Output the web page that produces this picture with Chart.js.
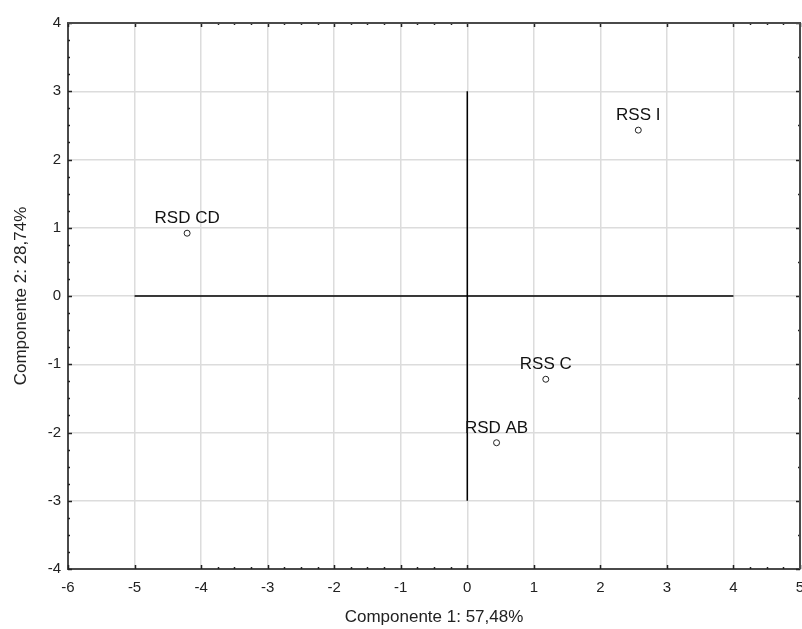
<!DOCTYPE html>
<html>
<head>
<meta charset="utf-8">
<script src="https://cdn.jsdelivr.net/npm/chart.js@4.4.1/dist/chart.umd.min.js"></script>
<style>
  html, body { margin: 0; padding: 0; background: #fff; }
  #wrap { width: 802px; height: 629px; overflow: hidden; }
</style>
</head>
<body>
<div id="wrap"><canvas id="pcaChart" width="805" height="629"></canvas></div>
<script>
// =================== DADOS ===================
const rotulos = ['RSS I', 'RSD CD', 'RSS C', 'RSD AB'];
const componente1 = [2.57, -4.21, 1.18, 0.44];
const componente2 = [2.43, 0.92, -1.22, -2.15];

// eixos de referência desenhados no centro
const eixoHorizX = [-5, 4];
const eixoHorizY = [0, 0];
const eixoVertX = [0, 0];
const eixoVertY = [-3, 3];

const ticksX = [-6, -5, -4, -3, -2, -1, 0, 1, 2, 3, 4, 5];
const ticksY = [-4, -3, -2, -1, 0, 1, 2, 3, 4];

const tituloX = 'Componente 1: 57,48%';
const tituloY = 'Componente 2: 28,74%';

const fonte = '"Liberation Sans", Arial, sans-serif';

// =================== PLUGINS ===================
// rótulos acima de cada ponto
const rotulosPlugin = {
    id: 'rotulos',
    afterDatasetsDraw(chart) {
        const ctx = chart.ctx;
        const meta = chart.getDatasetMeta(0);
        ctx.save();
        ctx.font = '17px ' + fonte;
        ctx.fillStyle = '#111';
        ctx.textAlign = 'center';
        ctx.textBaseline = 'bottom';
        meta.data.forEach((pt, i) => {
            ctx.fillText(rotulos[i], pt.x, pt.y - 6);
        });
        ctx.restore();
    }
};

// marcas (ticks) para dentro nos quatro lados
const marcasPlugin = {
    id: 'marcas',
    afterDraw(chart) {
        const { ctx, chartArea: a, scales } = chart;
        const sx = scales.x, sy = scales.y;
        ctx.save();
        ctx.strokeStyle = '#222';
        ctx.lineWidth = 1.5;
        ctx.beginPath();
        ticksX.forEach(v => {
            const px = Math.round(sx.getPixelForValue(v)) + 0.5;
            ctx.moveTo(px, a.bottom); ctx.lineTo(px, a.bottom - 4);
            ctx.moveTo(px, a.top); ctx.lineTo(px, a.top + 4);
        });
        ticksY.forEach(v => {
            const py = Math.round(sy.getPixelForValue(v)) + 0.5;
            ctx.moveTo(a.left, py); ctx.lineTo(a.left + 4, py);
            ctx.moveTo(a.right, py); ctx.lineTo(a.right - 4, py);
        });
        ctx.stroke();

        // marcas menores
        ctx.lineWidth = 1.5;
        ctx.beginPath();
        for (let v = -4; v < 5; v++) {
            if (v >= 0 && v < 4) continue;
            [0.25, 0.5, 0.75].forEach(f => {
                const px = Math.round(sx.getPixelForValue(v + f)) + 0.5;
                ctx.moveTo(px, a.bottom); ctx.lineTo(px, a.bottom - 2);
                ctx.moveTo(px, a.top); ctx.lineTo(px, a.top + 2);
            });
        }
        for (let v = -4; v < 4; v++) {
            [0.25, 0.5, 0.75].forEach(f => {
                const py = Math.round(sy.getPixelForValue(v + f)) + 0.5;
                ctx.moveTo(a.left, py); ctx.lineTo(a.left + 2, py);
            });
            const pr = Math.round(sy.getPixelForValue(v + 0.5)) + 0.5;
            ctx.moveTo(a.right, pr); ctx.lineTo(a.right - 2, pr);
        }
        ctx.stroke();
        ctx.restore();
    }
};

// moldura superior e direita
const molduraPlugin = {
    id: 'moldura',
    afterDraw(chart) {
        const { ctx, chartArea: a } = chart;
        ctx.save();
        ctx.strokeStyle = '#4a4a4a';
        ctx.lineWidth = 2;
        ctx.beginPath();
        ctx.moveTo(a.left, a.top);
        ctx.lineTo(a.right, a.top);
        ctx.lineTo(a.right, a.bottom);
        ctx.stroke();
        ctx.restore();
    }
};

// =================== GRÁFICO ===================
const ctx = document.getElementById('pcaChart');

new Chart(ctx, {
    type: 'scatter',
    data: {
        datasets: [
            {
                label: 'Observações',
                data: componente1.map((x, i) => ({ x: x, y: componente2[i] })),
                pointRadius: 3,
                pointBackgroundColor: '#fff',
                pointBorderColor: '#222',
                pointBorderWidth: 1,
                order: 0
            },
            {
                type: 'line',
                label: 'eixo horizontal',
                data: eixoHorizX.map((x, i) => ({ x: x, y: eixoHorizY[i] })),
                borderColor: '#000',
                borderWidth: 1.5,
                pointRadius: 0,
                fill: false,
                order: 1
            },
            {
                type: 'line',
                label: 'eixo vertical',
                data: eixoVertX.map((x, i) => ({ x: x, y: eixoVertY[i] })),
                borderColor: '#000',
                borderWidth: 1.5,
                pointRadius: 0,
                fill: false,
                order: 1
            }
        ]
    },
    options: {
        responsive: false,
        animation: false,
        layout: { padding: { top: 23, right: 0, left: 0, bottom: 0 } },
        plugins: {
            legend: { display: false },
            tooltip: { enabled: false }
        },
        scales: {
            x: {
                type: 'linear',
                min: -6,
                max: 5,
                afterBuildTicks: (s) => { s.ticks = ticksX.map(v => ({ value: v })); },
                afterFit: (s) => { s.height = 60; s.paddingLeft = 0; s.paddingRight = 0; },
                grid: { color: '#dcdcdc', lineWidth: 1.5, drawTicks: false },
                border: { color: '#4a4a4a', width: 2 },
                ticks: {
                    padding: 10,
                    color: '#222',
                    font: { family: fonte, size: 15 },
                    maxRotation: 0
                },
                title: {
                    display: true,
                    text: tituloX,
                    color: '#222',
                    font: { family: fonte, size: 17 },
                    padding: { top: 0, bottom: 1 }
                }
            },
            y: {
                type: 'linear',
                min: -4,
                max: 4,
                afterBuildTicks: (s) => { s.ticks = ticksY.map(v => ({ value: v })); },
                afterFit: (s) => { s.width = 68; s.paddingTop = 0; s.paddingBottom = 0; },
                grid: { color: '#dcdcdc', lineWidth: 1.5, drawTicks: false },
                border: { color: '#4a4a4a', width: 2 },
                ticks: {
                    padding: 7,
                    color: '#222',
                    font: { family: fonte, size: 15 }
                },
                title: {
                    display: true,
                    text: tituloY,
                    color: '#222',
                    font: { family: fonte, size: 17 },
                    padding: { top: 11, bottom: 0 }
                }
            }
        }
    },
    plugins: [rotulosPlugin, marcasPlugin, molduraPlugin]
});
</script>
</body>
</html>
